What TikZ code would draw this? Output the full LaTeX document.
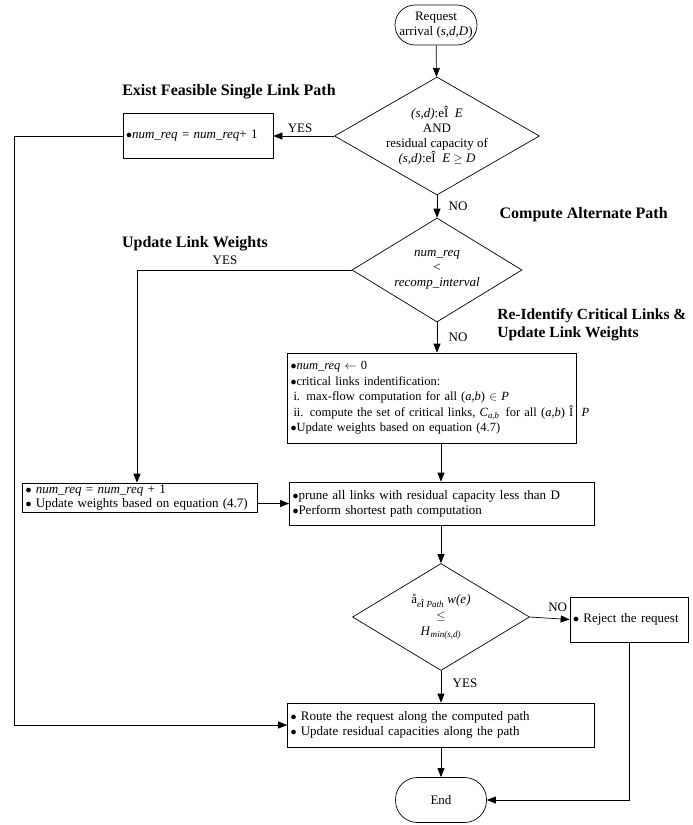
\documentclass[tikz,border=0pt]{standalone}
\usepackage{fontspec}
\setmainfont{Liberation Serif}
\usetikzlibrary{shapes.geometric,arrows.meta}
\newcommand{\dotmark}{$\bullet$}

\begin{document}
\begin{tikzpicture}[x=1pt, y=-1pt, line width=0.7pt,
  >={Triangle[length=9pt,width=7pt]},
  every node/.style={font=\fontsize{13}{15}\selectfont},
  terminal/.style={draw, rectangle, rounded corners=20pt, align=center, inner sep=2pt},
  decision/.style={draw, diamond, align=center, inner sep=0pt},
  stepbox/.style={draw, rectangle, align=left, inner xsep=3pt, inner ysep=2pt},
  heading/.style={font=\fontsize{16}{19}\selectfont\bfseries, align=left},
  answer/.style={font=\fontsize{13}{15}\selectfont}]
  \useasboundingbox (0,0) rectangle (693,825);

  \node[terminal, minimum width=82pt, minimum height=40pt] (start) at (436,25)
    {Request\\arrival (\textit{s,d,D})};
  \node[decision, minimum width=205pt, minimum height=118pt, aspect=1.74] (dec1) at (437,136)
    {\textit{(s,d)}:eÎ\ \ \textit{E}\\AND\\residual capacity of\\\textit{(s,d)}:eÎ\ \ \textit{E} $\geq$ \textit{D}};
  \node[stepbox, minimum width=150pt, minimum height=45pt, text width=144pt] (single) at (198,136)
    {\dotmark\textit{num\_req} = \textit{num\_req}+ 1};
  \node[decision, minimum width=170pt, minimum height=104pt, aspect=1.63] (dec2) at (437,270)
    {\textit{num\_req}\\<\\\textit{recomp\_interval}};
  \node[stepbox, minimum width=289pt, minimum height=90pt, text width=283pt,
    font=\fontsize{12.5}{15.5}\selectfont] (crit) at (432,398)
    {\dotmark\textit{num\_req} $\leftarrow$ 0\\
     \dotmark critical links indentification:\\
     \hspace{3pt}i. max-flow computation for all (\textit{a,b}) $\in$ \textit{P}\\
     \mbox{\hspace{3pt}ii. compute the set of critical links, \textit{C}\textsubscript{\textit{a,b}}\, for all (\textit{a,b}) Î\ \ \textit{P}}\\
     \dotmark Update weights based on equation (4.7)\\[2pt]};
  \node[stepbox, minimum width=235pt, minimum height=29pt, text width=229pt, inner ysep=0pt,
    font=\fontsize{13}{14}\selectfont] (upd) at (140,497.5)
    {\dotmark\ \textit{num\_req} = \textit{num\_req} + 1\\
     \dotmark\ Update weights based on equation (4.7)};
  \node[stepbox, minimum width=305pt, minimum height=43pt, text width=299pt] (prune) at (442,503.5)
    {\dotmark prune all links with residual capacity less than D\\
     \dotmark Perform shortest path computation\\[4pt]};
  \node[decision, minimum width=177pt, minimum height=107pt, aspect=1.65,
    font=\fontsize{13}{16}\selectfont] (dec3) at (441,617)
    {å\textsubscript{\textit{e}Î \textit{Path}} \textit{w(e)}\\$\leq$\\\textit{H}\textsubscript{\textit{min(s,d)}}};
  \node[stepbox, minimum width=118pt, minimum height=45pt, text width=112pt] (reject) at (629,619.5)
    {\dotmark\ Reject the request};
  \node[stepbox, minimum width=307pt, minimum height=44pt, text width=301pt] (route) at (441,725)
    {\dotmark\ Route the request along the computed path\\
     \dotmark\ Update residual capacities along the path\\[2pt]};
  \node[terminal, minimum width=91pt, minimum height=45pt, rounded corners=22pt] (finish) at (441,800) {End};

  \node[heading] (feasible) at (229,92) {Exist Feasible Single Link Path};
  \node[heading, anchor=west] (alternate) at (496,215) {Compute Alternate Path};
  \node[heading] (weights) at (195,244) {Update Link Weights};
  \node[heading, anchor=west, inner xsep=0pt, font=\fontsize{15.5}{18}\selectfont\bfseries] (reident) at (497,325)
    {Re-Identify Critical Links \&\\Update Link Weights};

  \coordinate (lft) at (14,136);
  \coordinate (upleft) at (137,270);

  \draw[->] (start) -- (dec1);
  \draw[->] (dec1.west) -- node[answer, above, pos=0.56] (yes1) {YES} (single.east);
  \draw[->] (single.west) -- (single.west -| lft) |- (route.west);
  \draw[->] (dec1.south) -- node[answer, right, xshift=8pt] (no1) {NO} (dec2.north);
  \draw[->] (dec2.west) -- node[answer, above, pos=0.59, yshift=2pt] (yes2) {YES} (upleft) -- (upleft |- upd.north);
  \draw[->] (dec2.south) -- node[answer, right, xshift=8pt] (no2) {NO} (dec2.south |- crit.north);
  \draw[->] (prune.west -| upd.east) -- (prune.west);
  \draw[->] (crit.south -| dec3.north) -- (prune.north -| dec3.north);
  \draw[->] (prune.south -| dec3.north) -- (dec3.north);
  \draw[->] (dec3.east) -- node[answer, above, pos=0.7, yshift=3pt] (no3) {NO} (reject.west);
  \draw[->] (dec3.south) -- node[answer, right, xshift=8pt, pos=0.4] (yes3) {YES} (route.north);
  \draw[->] (route.south) -- (finish.north);
  \draw[->] (reject.south) -- (reject.south |- finish.east) -- (finish.east);
\end{tikzpicture}
\end{document}
